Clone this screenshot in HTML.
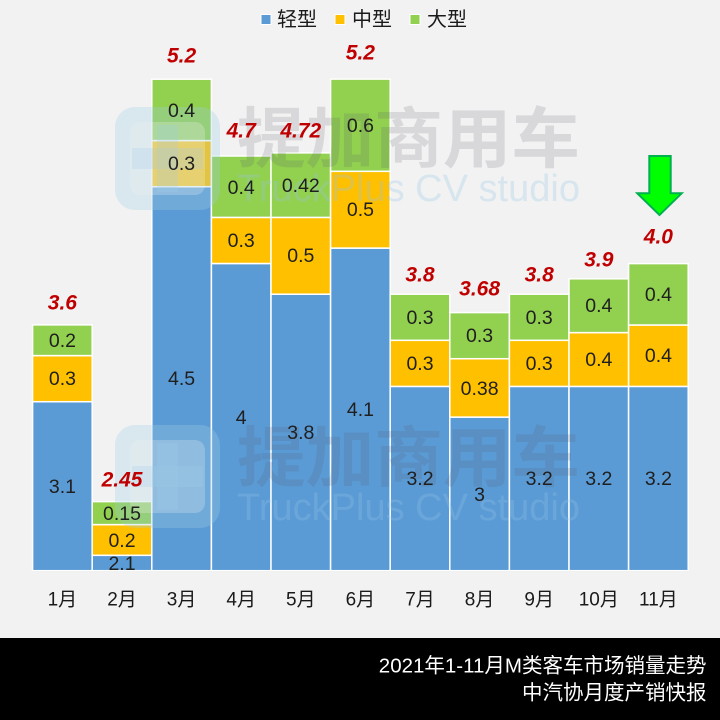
<!DOCTYPE html>
<html>
<head>
<meta charset="utf-8">
<style>
html,body{margin:0;padding:0;background:#f2f2f2;}
svg{display:block;}
text{font-family:"Liberation Sans","Noto Sans CJK SC",sans-serif;}
</style>
</head>
<body>
<svg width="720" height="720" viewBox="0 0 720 720" xmlns="http://www.w3.org/2000/svg">
<rect x="0" y="0" width="720" height="720" fill="#f2f2f2"/>

<!-- legend -->
<rect x="261" y="14.5" width="10" height="10" fill="#5b9bd5" stroke="#fff" stroke-width="1"/>
<text x="277" y="20" font-size="20" fill="#1a1a1a" dominant-baseline="central">轻型</text>
<rect x="335" y="14.5" width="10" height="10" fill="#ffc000" stroke="#fff" stroke-width="1"/>
<text x="352" y="20" font-size="20" fill="#1a1a1a" dominant-baseline="central">中型</text>
<rect x="410" y="14.5" width="10" height="10" fill="#92d050" stroke="#fff" stroke-width="1"/>
<text x="427" y="20" font-size="20" fill="#1a1a1a" dominant-baseline="central">大型</text>

<!-- axis line -->
<line x1="32" y1="571.2" x2="689" y2="571.2" stroke="#d9d9d9" stroke-width="1"/>

<g stroke="#ffffff" stroke-width="1.5">
<!-- bar 1 -->
<rect x="32.6" y="401.7" width="59.6" height="169" fill="#5b9bd5"/>
<rect x="32.6" y="355.6" width="59.6" height="46.1" fill="#ffc000"/>
<rect x="32.6" y="324.9" width="59.6" height="30.7" fill="#92d050"/>
<!-- bar 2 -->
<rect x="92.2" y="555.3" width="59.6" height="15.4" fill="#5b9bd5"/>
<rect x="92.2" y="524.6" width="59.6" height="30.7" fill="#ffc000"/>
<rect x="92.2" y="501.6" width="59.6" height="23" fill="#92d050"/>
<!-- bar 3 -->
<rect x="151.8" y="186.7" width="59.6" height="384" fill="#5b9bd5"/>
<rect x="151.8" y="140.6" width="59.6" height="46.1" fill="#ffc000"/>
<rect x="151.8" y="79.2" width="59.6" height="61.4" fill="#92d050"/>
<!-- bar 4 -->
<rect x="211.4" y="263.5" width="59.6" height="307.2" fill="#5b9bd5"/>
<rect x="211.4" y="217.4" width="59.6" height="46.1" fill="#ffc000"/>
<rect x="211.4" y="156.0" width="59.6" height="61.4" fill="#92d050"/>
<!-- bar 5 -->
<rect x="271.0" y="294.2" width="59.6" height="276.5" fill="#5b9bd5"/>
<rect x="271.0" y="217.4" width="59.6" height="76.8" fill="#ffc000"/>
<rect x="271.0" y="152.9" width="59.6" height="64.5" fill="#92d050"/>
<!-- bar 6 -->
<rect x="330.6" y="248.1" width="59.6" height="322.6" fill="#5b9bd5"/>
<rect x="330.6" y="171.3" width="59.6" height="76.8" fill="#ffc000"/>
<rect x="330.6" y="79.1" width="59.6" height="92.2" fill="#92d050"/>
<!-- bar 7 -->
<rect x="390.2" y="386.4" width="59.6" height="184.3" fill="#5b9bd5"/>
<rect x="390.2" y="340.3" width="59.6" height="46.1" fill="#ffc000"/>
<rect x="390.2" y="294.2" width="59.6" height="46.1" fill="#92d050"/>
<!-- bar 8 -->
<rect x="449.8" y="417.1" width="59.6" height="153.6" fill="#5b9bd5"/>
<rect x="449.8" y="358.7" width="59.6" height="58.4" fill="#ffc000"/>
<rect x="449.8" y="312.6" width="59.6" height="46.1" fill="#92d050"/>
<!-- bar 9 -->
<rect x="509.4" y="386.4" width="59.6" height="184.3" fill="#5b9bd5"/>
<rect x="509.4" y="340.3" width="59.6" height="46.1" fill="#ffc000"/>
<rect x="509.4" y="294.2" width="59.6" height="46.1" fill="#92d050"/>
<!-- bar 10 -->
<rect x="569.0" y="386.4" width="59.6" height="184.3" fill="#5b9bd5"/>
<rect x="569.0" y="332.6" width="59.6" height="53.8" fill="#ffc000"/>
<rect x="569.0" y="278.8" width="59.6" height="53.8" fill="#92d050"/>
<!-- bar 11 -->
<rect x="628.6" y="386.4" width="59.6" height="184.3" fill="#5b9bd5"/>
<rect x="628.6" y="325.0" width="59.6" height="61.4" fill="#ffc000"/>
<rect x="628.6" y="263.6" width="59.6" height="61.4" fill="#92d050"/>
</g>

<!-- watermarks -->
<g>
  <rect x="115" y="107" width="105" height="103" rx="20" fill="rgba(160,205,230,0.3)"/>
  <rect x="130" y="122" width="75" height="73" rx="10" fill="rgba(242,242,242,0.25)"/>
  <rect x="157" y="125" width="21" height="67" fill="rgba(160,205,230,0.25)"/>
  <rect x="132" y="148" width="71" height="21" fill="rgba(160,205,230,0.25)"/>
  <text x="237" y="162" font-size="66" font-weight="bold" fill="rgba(80,80,100,0.16)" textLength="343" lengthAdjust="spacingAndGlyphs">提加商用车</text>
  <text x="237" y="201" font-size="38" fill="rgba(150,200,230,0.3)" textLength="343" lengthAdjust="spacingAndGlyphs">TruckPlus CV studio</text>

  <rect x="115" y="425" width="105" height="103" rx="20" fill="rgba(160,205,230,0.3)"/>
  <rect x="130" y="440" width="75" height="73" rx="10" fill="rgba(242,242,242,0.25)"/>
  <rect x="157" y="443" width="21" height="67" fill="rgba(160,205,230,0.25)"/>
  <rect x="132" y="466" width="71" height="21" fill="rgba(160,205,230,0.25)"/>
  <text x="237" y="481" font-size="66" font-weight="bold" fill="rgba(80,80,100,0.16)" textLength="343" lengthAdjust="spacingAndGlyphs">提加商用车</text>
  <text x="237" y="520" font-size="38" fill="rgba(150,200,230,0.25)" textLength="343" lengthAdjust="spacingAndGlyphs">TruckPlus CV studio</text>
</g>

<!-- segment labels -->
<g font-size="19.5" fill="#1f1f1f" text-anchor="middle" dominant-baseline="central">
<text x="62.4" y="487">3.1</text><text x="62.4" y="379">0.3</text><text x="62.4" y="341">0.2</text>
<text x="122" y="564">2.1</text><text x="122" y="541">0.2</text><text x="122" y="514">0.15</text>
<text x="181.6" y="379">4.5</text><text x="181.6" y="164">0.3</text><text x="181.6" y="111">0.4</text>
<text x="241.2" y="418">4</text><text x="241.2" y="241">0.3</text><text x="241.2" y="188">0.4</text>
<text x="300.8" y="433">3.8</text><text x="300.8" y="256">0.5</text><text x="300.8" y="186">0.42</text>
<text x="360.4" y="410">4.1</text><text x="360.4" y="210">0.5</text><text x="360.4" y="126">0.6</text>
<text x="420" y="479">3.2</text><text x="420" y="364">0.3</text><text x="420" y="318">0.3</text>
<text x="479.6" y="495">3</text><text x="479.6" y="389">0.38</text><text x="479.6" y="336">0.3</text>
<text x="539.2" y="479">3.2</text><text x="539.2" y="364">0.3</text><text x="539.2" y="318">0.3</text>
<text x="598.8" y="479">3.2</text><text x="598.8" y="360">0.4</text><text x="598.8" y="306">0.4</text>
<text x="658.4" y="479">3.2</text><text x="658.4" y="356">0.4</text><text x="658.4" y="295">0.4</text>
</g>

<!-- totals -->
<g font-size="21" font-weight="bold" font-style="italic" fill="#c00000" text-anchor="middle" dominant-baseline="central">
<text x="62.4" y="303">3.6</text>
<text x="122" y="480">2.45</text>
<text x="181.6" y="56">5.2</text>
<text x="241.2" y="131">4.7</text>
<text x="300.8" y="131">4.72</text>
<text x="360.4" y="53">5.2</text>
<text x="420" y="275">3.8</text>
<text x="479.6" y="289">3.68</text>
<text x="539.2" y="275">3.8</text>
<text x="598.8" y="260">3.9</text>
<text x="658.4" y="237">4.0</text>
</g>

<!-- arrow -->
<polygon points="649.3,156 670.7,156 670.7,193.3 681.7,193.3 659.5,215 637.3,193.3 649.3,193.3" fill="#00ff00" stroke="#00b050" stroke-width="2" stroke-linejoin="miter"/>

<!-- category labels -->
<g font-size="19" fill="#1a1a1a" text-anchor="middle" dominant-baseline="central">
<text x="62.4" y="600">1月</text>
<text x="122" y="600">2月</text>
<text x="181.6" y="600">3月</text>
<text x="241.2" y="600">4月</text>
<text x="300.8" y="600">5月</text>
<text x="360.4" y="600">6月</text>
<text x="420" y="600">7月</text>
<text x="479.6" y="600">8月</text>
<text x="539.2" y="600">9月</text>
<text x="598.8" y="600">10月</text>
<text x="658.4" y="600">11月</text>
</g>

<!-- footer -->
<rect x="0" y="638" width="720" height="82" fill="#000"/>
<text x="706.5" y="666" font-size="20.5" fill="#fff" text-anchor="end" dominant-baseline="central">2021年1-11月M类客车市场销量走势</text>
<text x="706.5" y="693" font-size="20.5" fill="#fff" text-anchor="end" dominant-baseline="central">中汽协月度产销快报</text>
</svg>
</body>
</html>
